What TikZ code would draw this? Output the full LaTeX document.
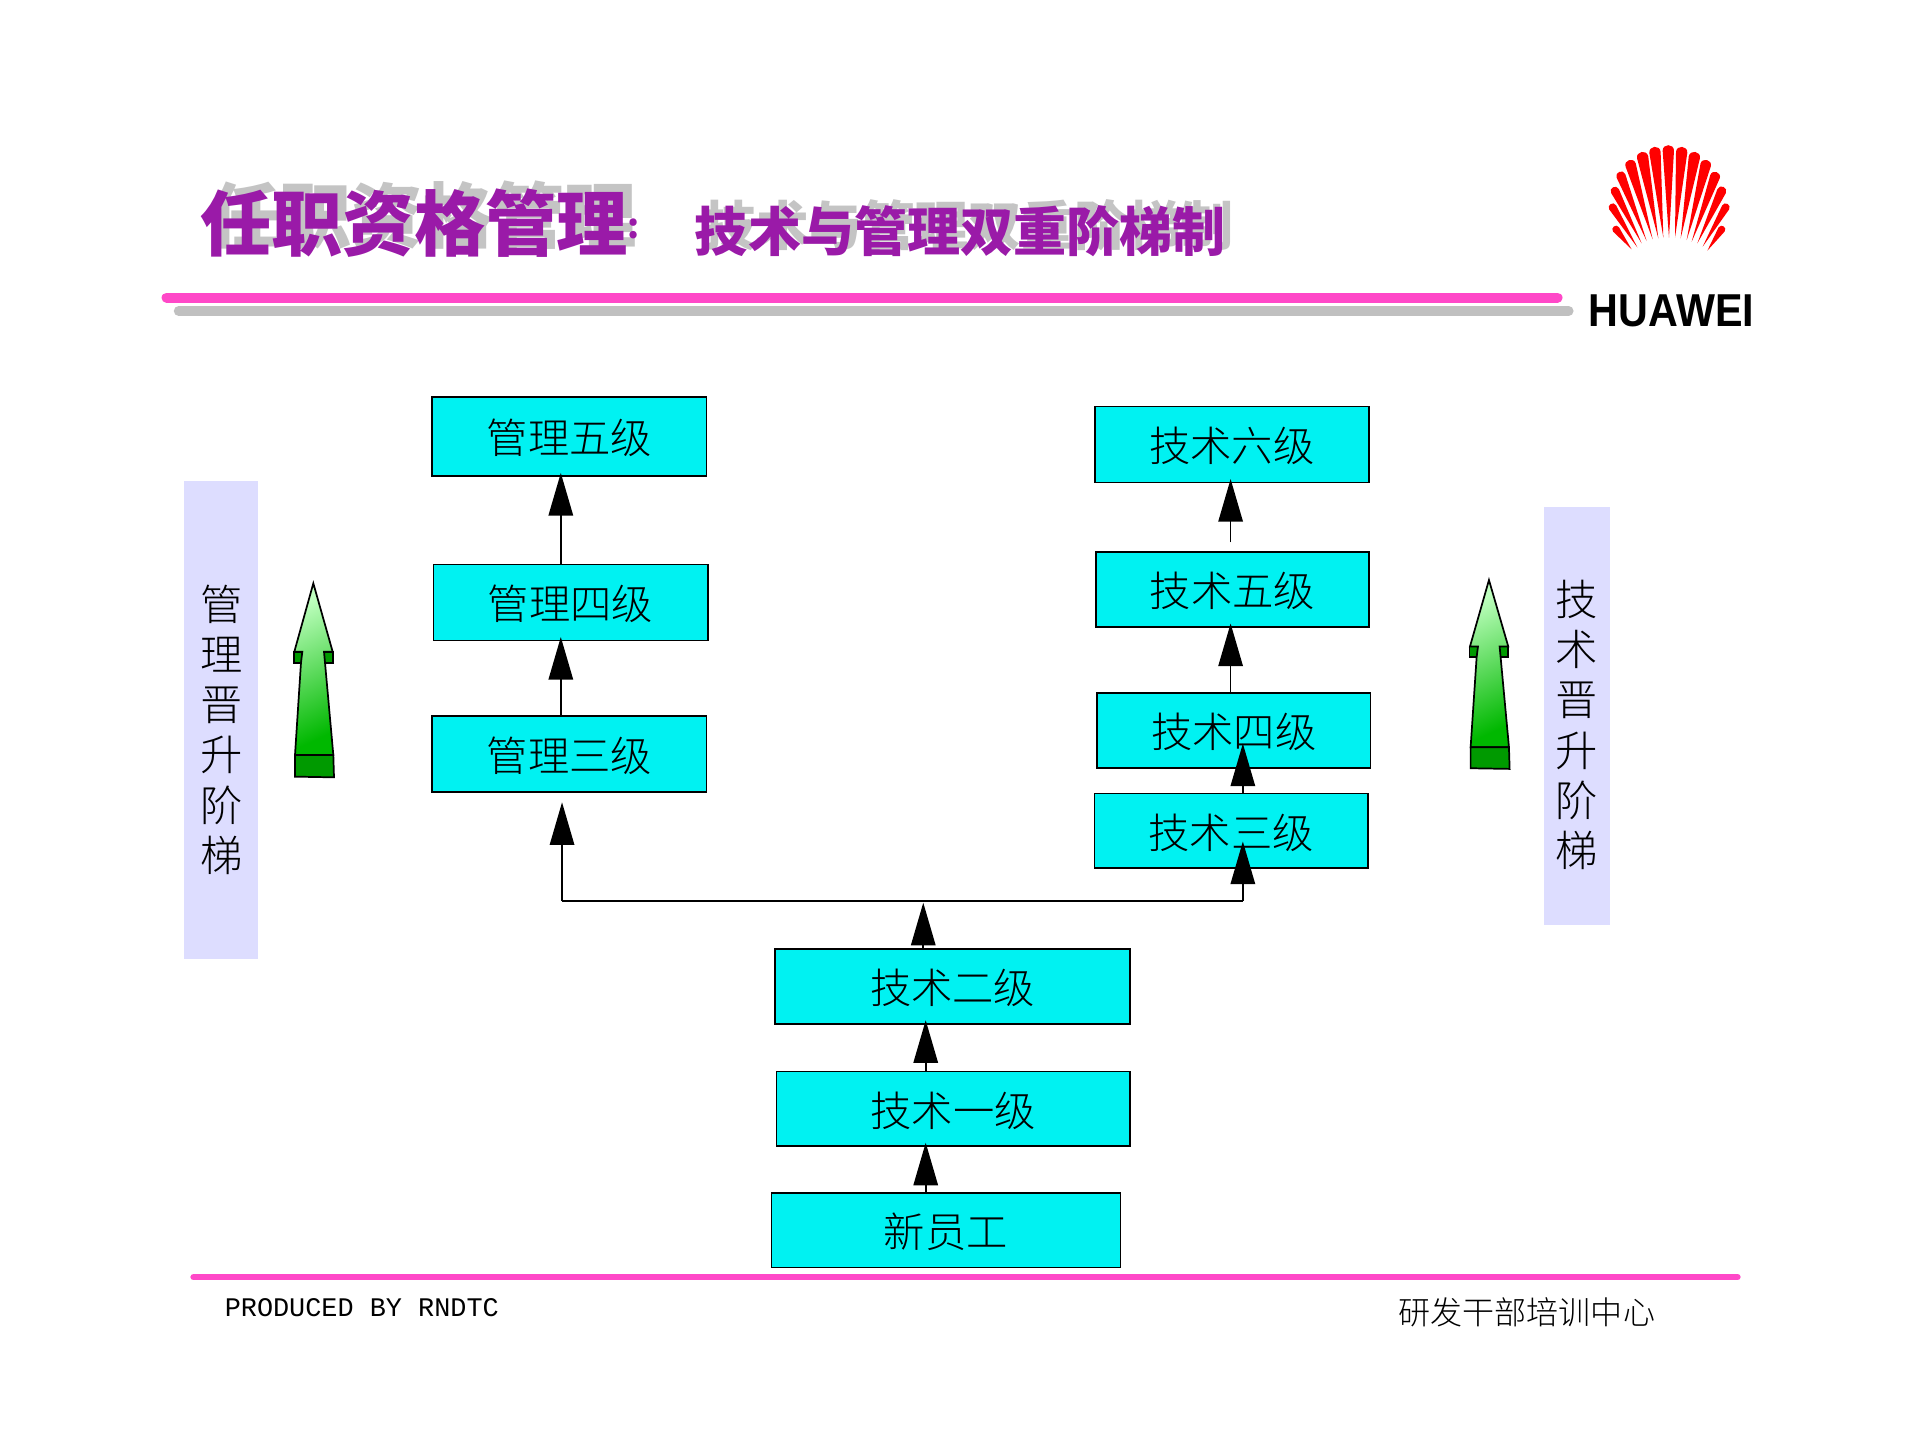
\documentclass[tikz,border=0pt]{standalone}
\usepackage{fontspec}
\usetikzlibrary{arrows.meta,calc}
\newfontfamily\cjk{Noto Sans CJK SC}
\newfontfamily\cjklight{Noto Sans CJK SC Light}
\setmainfont{Liberation Sans}
\setmonofont{Liberation Mono}
\definecolor{cyanbox}{HTML}{00F2F2}
\definecolor{panel}{HTML}{DDDDFF}
\definecolor{titlepurple}{HTML}{9A1AA8}
\definecolor{rulepink}{HTML}{FF48C8}
\definecolor{rulegray}{HTML}{C0C0C0}
\definecolor{shadowgray}{HTML}{C4C4C4}
\definecolor{darkgreen}{HTML}{009A00}
\tikzset{
  lvl/.style={draw=black,line width=.5pt,fill=cyanbox,inner sep=0pt,outer sep=0pt,
    text depth=-1pt,font=\cjklight\fontsize{12}{14}\selectfont,text=black},
  up/.style={line width=.5pt,shorten >=-1pt,-{Triangle[length=12.4pt,width=7.1pt]}},
  sidepanel/.style={fill=panel,draw=none,inner sep=0pt,outer sep=0pt},
  sidetext/.style={align=center,font=\cjklight\fontsize{12.3}{14.55}\selectfont},
  rulep/.style={line cap=round,draw=rulepink},
  maintitle/.style={anchor=west,inner sep=0pt,font=\cjk\bfseries\fontsize{20.7}{24}\selectfont},
  subtitle/.style={anchor=west,inner sep=0pt,font=\cjk\bfseries\fontsize{15.4}{18}\selectfont},
}
\newcommand{\greenarrow}{%
  \path[draw=black,line width=.5pt,fill=darkgreen] (72,245) rectangle (97,278);
  \path[draw=black,line width=.5pt,fill=darkgreen] (162,245) rectangle (188,278);
  \path[draw=black,line width=.5pt,top color=green!25!white,bottom color=green!72!black,shading angle=25]
    (130,40) -- (188,245) -- (162,245) -- (165,278) -- (190,555) -- (75,555) -- (93,278) -- (97,245) -- (73,245) -- cycle;
  \path[draw=black,line width=.5pt,fill=darkgreen] (75,555) -- (190,555) -- (192,622) -- (75,620) -- cycle;
}
\begin{document}
\begin{tikzpicture}[x=0.0125cm,y=-0.0125cm]
\useasboundingbox[fill=white] (0,0) rectangle (1568,1176);

% rules
\draw[rulegray,line width=2.9pt,line cap=round] (146,254) -- (1281,254);
\draw[rulep,line width=2.9pt] (136,243) -- (1272,243);
\draw[rulep,line width=1.8pt] (158,1043) -- (1419,1043);

% titles
\node[maintitle,text=shadowgray] (tshadow) at (170,176) {任职资格管理};
\node[subtitle,text=shadowgray] (sshadow) at (574,184) {技术与管理双重阶梯制};
\node[maintitle,text=titlepurple] (title) at (163,182) {任职资格管理};
\node[anchor=west,inner sep=0pt,text=titlepurple,font=\cjk\bfseries\fontsize{10}{12}\selectfont] (tcolon) at (512,187) {:};
\node[subtitle,text=titlepurple] (sub) at (567,189) {技术与管理双重阶梯制};

% logo
\begin{scope}[shift={(1274,106.2)},scale=.2722]
\foreach \tx/\ty/\r/\ex/\ey in {168/298/11/215/358,158/232/12/232/352,165/183/13/245/340,183/138/14/260/333,
  212/105/16/278/328,248/82/17/295/325,285/67/17/310/323,325/62/17/327/323,365/67/17/345/323,403/82/17/362/325,
  437/105/16/380/330,465/140/15/395/335,485/183/14/412/340,497/232/12/428/350,485/298/11/442/362}{
  \pgfmathsetmacro\dx{\tx-\ex}
  \pgfmathsetmacro\dy{\ty-\ey}
  \pgfmathsetmacro\len{veclen(\dx,\dy)}
  \pgfmathsetmacro\nx{-\dy/\len*\r}
  \pgfmathsetmacro\ny{\dx/\len*\r}
  \pgfmathsetmacro\cx{\dx/\len*\r*1.3}
  \pgfmathsetmacro\cy{\dy/\len*\r*1.3}
  \fill[red] (\ex,\ey) -- (\tx+\nx,\ty+\ny)
    .. controls (\tx+\nx+\cx,\ty+\ny+\cy) and (\tx-\nx+\cx,\ty-\ny+\cy) .. (\tx-\nx,\ty-\ny) -- cycle;
}
\end{scope}
\node[inner sep=0pt,font=\bfseries\fontsize{13.4}{16}\selectfont] (huawei) at (1365,254) {\scalebox{.895}[1]{HUAWEI}};

% side panels
\fill[panel] (150,393) rectangle (211,783);
\fill[panel] (1261,414) rectangle (1315,755);
\node[sidetext] (lside) at (181,596) {管\\理\\晋\\升\\阶\\梯};
\node[sidetext] (rside) at (1288,592) {技\\术\\晋\\升\\阶\\梯};

% green arrows
\begin{scope}[shift={(220.5,465.5)},scale=.2722]
\greenarrow
\end{scope}
\begin{scope}[shift={(1180.6,463.1)},xscale=.2722,yscale=.265]
\greenarrow
\end{scope}

% boxes
\node[lvl,minimum width=2.8cm,minimum height=.8125cm] (m5) at (465,356.5) {管理五级};
\node[lvl,minimum width=2.8cm,minimum height=.775cm] (m4) at (466,492) {管理四级};
\node[lvl,minimum width=2.8cm,minimum height=.775cm] (m3) at (465,616) {管理三级};
\node[lvl,minimum width=2.8cm,minimum height=.775cm] (t6) at (1006,363) {技术六级};
\node[lvl,minimum width=2.79cm,minimum height=.7625cm] (t5) at (1006.5,481.5) {技术五级};
\node[lvl,minimum width=2.79cm,minimum height=.7625cm] (t4) at (1007.5,596.5) {技术四级};
\node[lvl,minimum width=2.79cm,minimum height=.7625cm] (t3) at (1005.5,678.5) {技术三级};
\node[lvl,minimum width=3.625cm,minimum height=.7625cm] (t2) at (778,805.5) {技术二级};
\node[lvl,minimum width=3.61cm,minimum height=.7625cm] (t1) at (778.5,905.5) {技术一级};
\node[lvl,minimum width=3.5625cm,minimum height=.7625cm] (new) at (772.5,1004.5) {新员工};

% connector anchors
\coordinate (xm) at (458,0);
\coordinate (xt) at (1005,0);
\coordinate (xr) at (1015,0);
\coordinate (xb) at (756,0);
\coordinate (xc) at (754,0);
\coordinate (jl) at (459,736);
\coordinate (jr) at (1015,736);
\coordinate (jc) at (754,740);
\coordinate (jtip) at (459,658);
\coordinate (t5free) at (1005,443);
\coordinate (t3tip) at (1015,690);
\coordinate (t4tip) at (1015,610);

% connectors
\draw[line width=.5pt] (jl) -- (jr);
\draw[up] (jl) -- (jtip);
\draw[up] (jr) -- (t3tip);
\draw[up] (t3.north -| xr) -- (t4tip);
\draw[up] (m4.north -| xm) -- (m5.south -| xm);
\draw[up] (m3.north -| xm) -- (m4.south -| xm);
\draw[up] (t5free) -- (t6.south -| xt);
\draw[up] (t4.north -| xt) -- (t5.south -| xt);
\draw[up] (t2.north -| xc) -- (jc);
\draw[up] (t1.north -| xb) -- (t2.south -| xb);
\draw[up] (new.north -| xb) -- (t1.south -| xb);

% footer
\node[anchor=west,inner sep=0pt,font=\ttfamily\fontsize{7.8}{10}\selectfont] (prod) at (183,1068) {PRODUCED BY RNDTC};
\node[inner sep=0pt,font=\cjklight\fontsize{9.3}{11}\selectfont] (center) at (1247,1072) {研发干部培训中心};
\end{tikzpicture}
\end{document}
